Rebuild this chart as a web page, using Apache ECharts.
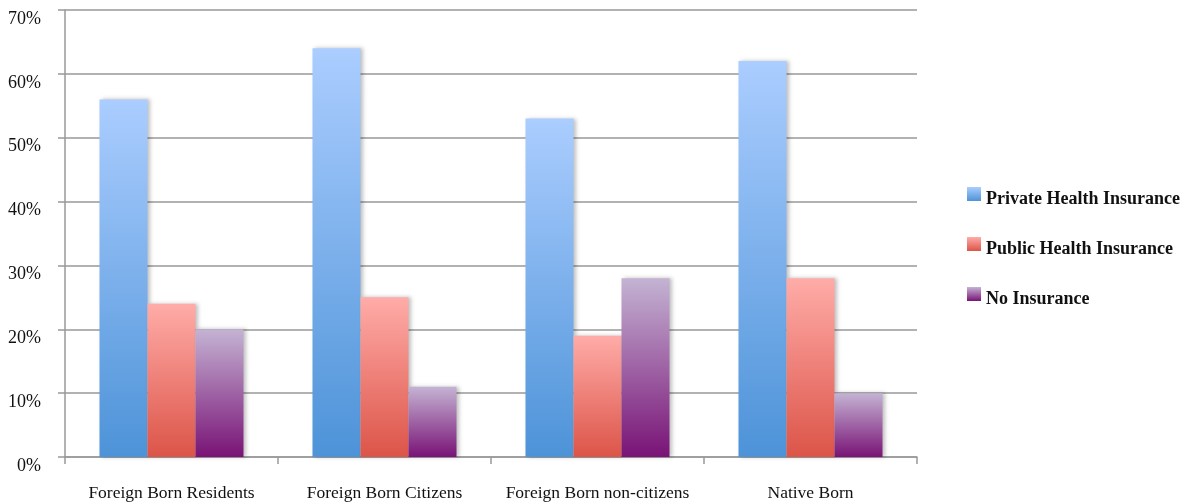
<!DOCTYPE html>
<html>
<head>
<meta charset="utf-8">
<script src="https://cdn.jsdelivr.net/npm/echarts@6/dist/echarts.min.js"></script>
<style>html,body{margin:0;padding:0;background:#fff}#c{width:1187px;height:504px}</style>
</head>
<body>
<div id="c"></div>
<script>
var categories = ['Foreign Born Residents', 'Foreign Born Citizens', 'Foreign Born non-citizens', 'Native Born'];
var seriesNames = ['Private Health Insurance', 'Public Health Insurance', 'No Insurance'];
var privateIns = [56, 64, 53, 62];
var publicIns = [24, 25, 19, 28];
var noIns = [20, 11, 28, 10];
var yTicks = [0, 10, 20, 30, 40, 50, 60, 70];

function grad(top, bottom) {
  return new echarts.graphic.LinearGradient(0, 0, 0, 1, [
    {offset: 0, color: top}, {offset: 1, color: bottom}
  ]);
}
var fills = [grad('#abcdff', '#4d93d8'), grad('#ffaca8', '#dc5448'), grad('#c4b3d3', '#791376')];
var values = [privateIns, publicIns, noIns];

var chart = echarts.init(document.getElementById('c'), null, {renderer: 'canvas'});
var serif = 'Liberation Serif';
chart.setOption({
  animation: false,
  backgroundColor: '#fff',
  grid: {left: 65, right: 270, top: 10, bottom: 47, containLabel: false},
  legend: {
    orient: 'vertical',
    left: 962,
    top: 182,
    itemWidth: 14,
    itemHeight: 14,
    itemGap: 29,
    icon: 'rect',
    data: seriesNames,
    formatter: function (n) { return '{t|' + n + '}'; },
    textStyle: {
      fontFamily: serif, fontWeight: 'bold', fontSize: 18, color: '#111',
      rich: {t: {fontFamily: serif, fontWeight: 'bold', fontSize: 18, color: '#111', padding: [10, 0, 0, 0]}}
    }
  },
  xAxis: {
    type: 'category',
    data: categories,
    axisLine: {show: true, lineStyle: {color: '#999', width: 1.5}},
    axisTick: {show: true, length: 7, alignWithLabel: false, lineStyle: {color: '#999', width: 1.5}},
    axisLabel: {fontFamily: serif, fontSize: 17.5, color: '#111', margin: 27, interval: 0}
  },
  yAxis: {
    type: 'value',
    min: 0,
    max: 70,
    interval: 10,
    axisLine: {show: true, lineStyle: {color: '#999', width: 1.5}},
    axisTick: {show: true, length: 7, lineStyle: {color: '#999', width: 1.5}},
    splitLine: {show: true, lineStyle: {color: '#999', width: 1.5}},
    axisLabel: {
      fontFamily: serif, fontSize: 18, color: '#111', margin: 24, verticalAlign: 'top',
      formatter: function (v) { return yTicks.indexOf(v) >= 0 ? v + '%' : ''; }
    }
  },
  series: seriesNames.map(function (name, i) {
    return {
      name: name,
      type: 'bar',
      data: values[i],
      barWidth: 48,
      barGap: '0%',
      itemStyle: {color: fills[i], shadowColor: 'rgba(0,0,0,0.25)', shadowBlur: 4, shadowOffsetX: 2, shadowOffsetY: 0}
    };
  })
});
</script>
</body>
</html>
